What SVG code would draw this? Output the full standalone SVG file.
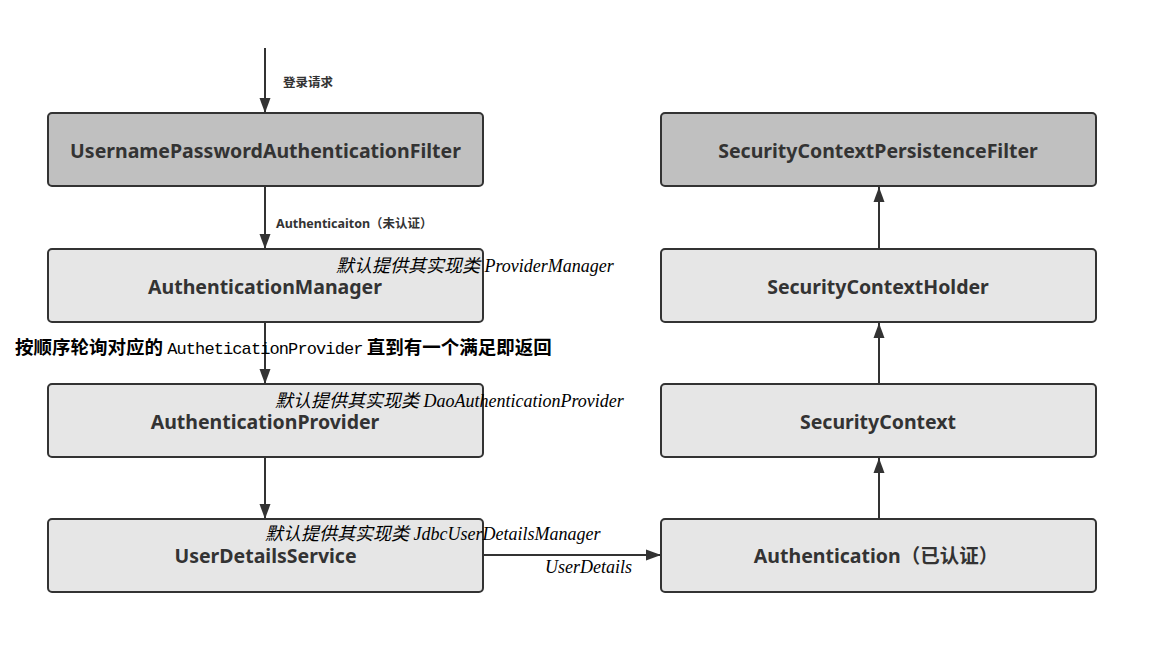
<svg xmlns="http://www.w3.org/2000/svg" width="1158" height="655" viewBox="0 0 1158 655">
<defs>
<marker id="arr" markerUnits="userSpaceOnUse" markerWidth="16" markerHeight="12" refX="15" refY="6" orient="auto">
<path d="M0,0.5 L15,6 L0,11.5 Z" fill="#333"/>
</marker>
<style>
.box{stroke:#333;stroke-width:2}
.dark{fill:#c0c0c0}
.light{fill:#e6e6e6}
.bt{font-family:"Noto Sans","Open Sans","Noto Sans CJK SC",sans-serif;font-weight:bold;font-size:19.5px;fill:#333;text-anchor:middle}
.lbl{font-family:"Noto Sans","Noto Sans CJK SC",sans-serif;font-weight:bold;font-size:12.5px;fill:#333}
.it{font-family:"Liberation Serif","Noto Sans CJK SC",serif;font-style:italic;font-size:18px;fill:#000}
.cn{font-family:"Noto Sans CJK SC",sans-serif;font-weight:bold;font-size:18.5px;fill:#000}
.mono{font-family:"Liberation Mono","Noto Sans CJK SC",monospace;font-size:17px;letter-spacing:-0.9px;font-weight:normal}
.edge{stroke:#333;stroke-width:2;fill:none;marker-end:url(#arr)}
</style>
</defs>
<rect width="1158" height="655" fill="#fff"/>
<g id="connectors">
<line class="edge" x1="265" y1="48" x2="265" y2="113"/>
<line class="edge" x1="265" y1="187" x2="265" y2="249"/>
<line class="edge" x1="265" y1="323" x2="265" y2="384"/>
<line class="edge" x1="265" y1="458" x2="265" y2="519"/>
<line class="edge" x1="484" y1="555" x2="661" y2="555"/>
<line class="edge" x1="879" y1="519" x2="879" y2="458"/>
<line class="edge" x1="879" y1="384" x2="879" y2="323"/>
<line class="edge" x1="879" y1="249" x2="879" y2="187"/>
</g>
<g id="n1"><rect class="box dark" x="48" y="113" width="435" height="73" rx="4"/><text class="bt" x="265.5" y="158">UsernamePasswordAuthenticationFilter</text></g>
<g id="n2"><rect class="box light" x="48" y="249" width="435" height="73" rx="4"/><text class="bt" x="265" y="294">AuthenticationManager</text></g>
<g id="n3"><rect class="box light" x="48" y="384" width="435" height="73" rx="4"/><text class="bt" x="265" y="429">AuthenticationProvider</text></g>
<g id="n4"><rect class="box light" x="48" y="519" width="435" height="73" rx="4"/><text class="bt" x="265.5" y="563">UserDetailsService</text></g>
<g id="n5"><rect class="box dark" x="661" y="113" width="435" height="73" rx="4"/><text class="bt" x="878" y="158">SecurityContextPersistenceFilter</text></g>
<g id="n6"><rect class="box light" x="661" y="249" width="435" height="73" rx="4"/><text class="bt" x="878" y="294">SecurityContextHolder</text></g>
<g id="n7"><rect class="box light" x="661" y="384" width="435" height="73" rx="4"/><text class="bt" x="878" y="429">SecurityContext</text></g>
<g id="n8"><rect class="box light" x="661" y="519" width="435" height="73" rx="4"/><text class="bt" x="876" y="563">Authentication（已认证）</text></g>
<g id="labels">
<text class="lbl" x="283" y="87">登录请求</text>
<text class="lbl" x="276" y="228">Authenticaiton（未认证）</text>
<text class="it" x="336" y="272">默认提供其实现类 ProviderManager</text>
<text class="cn" x="15" y="354">按顺序轮询对应的 <tspan class="mono">AutheticationProvider</tspan> 直到有一个满足即返回</text>
<text class="it" x="275" y="407">默认提供其实现类 DaoAuthenticationProvider</text>
<text class="it" x="265" y="540">默认提供其实现类 JdbcUserDetailsManager</text>
<text class="it" x="545" y="573">UserDetails</text>
</g>
</svg>
